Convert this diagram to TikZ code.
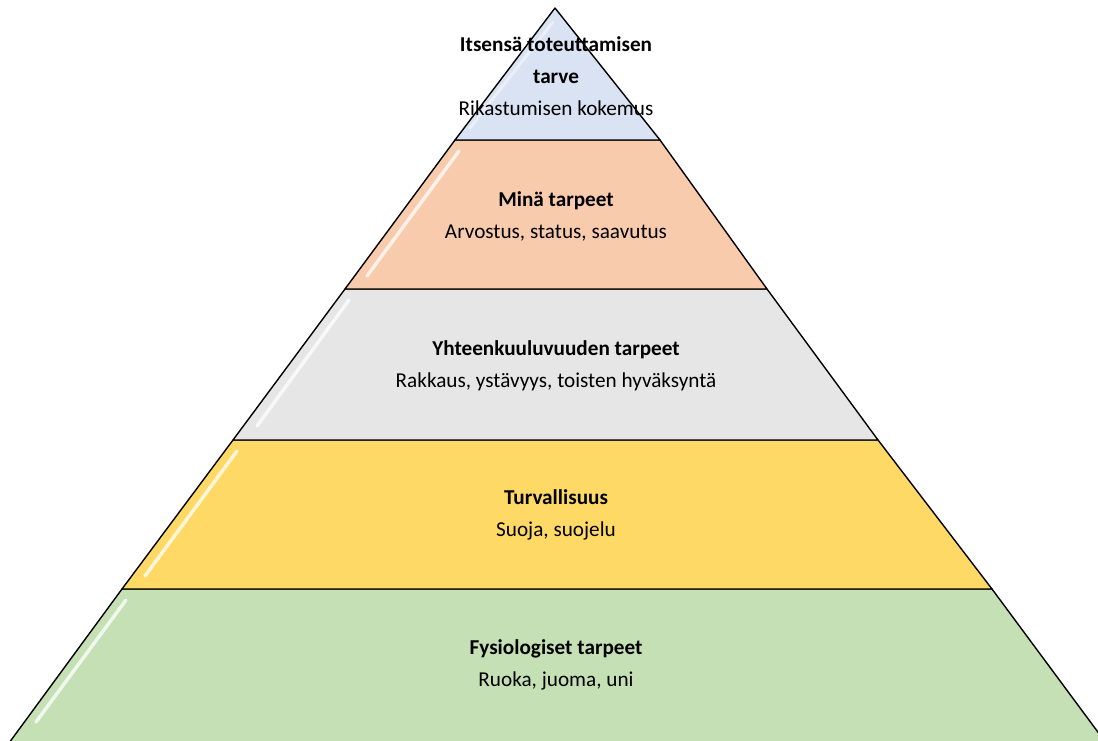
\documentclass[tikz,border=0pt]{standalone}
\usepackage{fontspec}
\setmainfont{Carlito}
\definecolor{cblue}{HTML}{DAE3F3}
\definecolor{cpink}{HTML}{F8CBAD}
\definecolor{cgrey}{HTML}{E7E6E6}
\definecolor{cyellow}{HTML}{FFD966}
\definecolor{cgreen}{HTML}{C5E0B4}
\tikzset{
  layer/.style={draw=black, line width=1.4pt, line join=round},
  gloss/.style={draw=white, line width=3.5pt, line cap=round, opacity=0.75},
  lbl/.style={align=center, inner sep=0pt, font=\fontsize{21.2}{32}\selectfont},
}
\begin{document}
\begin{tikzpicture}[x=1pt,y=-1pt]
\useasboundingbox (0,0) rectangle (1098,740);
\begin{scope}
\clip (0,0) rectangle (1098,740);
% layers (bottom to top)
\path[layer, fill=cgreen] (122,589) -- (992,589) -- (1106,743) -- (9,743) -- cycle;
\path[layer, fill=cyellow] (233,440) -- (878,440) -- (992,589) -- (122,589) -- cycle;
\path[layer, fill=cgrey] (345,289) -- (767,289) -- (878,440) -- (233,440) -- cycle;
\path[layer, fill=cpink] (455,140) -- (660,140) -- (767,289) -- (345,289) -- cycle;
\path[layer, fill=cblue] (555,8) -- (660,140) -- (455,140) -- cycle;
% gloss highlights
\draw[gloss] (126,600) -- (36,722);
\draw[gloss] (237,451) -- (145,576);
\draw[gloss] (349,300) -- (257,426);
\draw[gloss] (459,151) -- (367,276);
\draw[gloss, opacity=0.45, line width=3pt] (553,22) -- (470,128);
\end{scope}
% labels
\node[lbl] (top) at (556,76) {\textbf{Itsensä toteuttamisen}\\\textbf{tarve}\\Rikastumisen kokemus};
\node[lbl] (mina) at (556,216) {\textbf{Minä tarpeet}\\Arvostus, status, saavutus};
\node[lbl] (yht) at (556,366) {\textbf{Yhteenkuuluvuuden tarpeet}\\Rakkaus, ystävyys, toisten hyväksyntä};
\node[lbl] (turv) at (556,515) {\textbf{Turvallisuus}\\Suoja, suojelu};
\node[lbl] (fys) at (556,665) {\textbf{Fysiologiset tarpeet}\\Ruoka, juoma, uni};
\end{tikzpicture}
\end{document}
